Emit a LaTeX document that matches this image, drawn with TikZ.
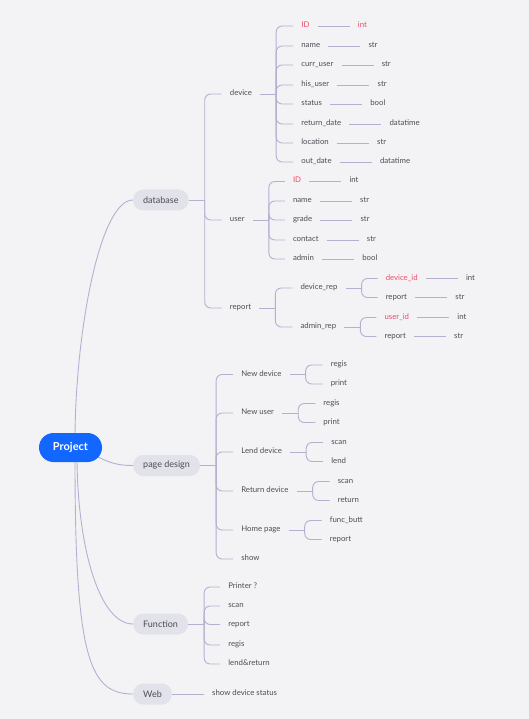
\documentclass[tikz,border=0pt]{standalone}
\usepackage{fontspec}
\setmainfont{Lato}
\usetikzlibrary{positioning,calc,backgrounds}

\definecolor{bgcol}{HTML}{F3F3F6}
\definecolor{linecol}{HTML}{B3B0D0}
\definecolor{txtcol}{HTML}{4C4C54}
\definecolor{keycol}{HTML}{F04A6A}
\definecolor{pillcol}{HTML}{E2E2EA}
\definecolor{rootcol}{HTML}{1167FF}

\tikzset{
	lnk/.style={draw=linecol, line width=0.9pt},
	brace/.style={lnk, rounded corners=6pt},
	leaf/.style={text=txtcol, font=\fontsize{7.8}{9}\selectfont, inner xsep=8pt, inner ysep=1pt, text height=5pt, text depth=2pt, anchor=west},
	pill/.style={fill=pillcol, rounded corners=10pt, text=txtcol, font=\fontsize{9}{10}\selectfont, inner xsep=10pt, minimum height=21pt, anchor=west},
	root/.style={fill=rootcol, text=white, font=\fontsize{11}{13}\selectfont\bfseries, minimum width=63pt, minimum height=29pt, rounded corners=14.5pt}
}

\begin{document}
\begin{tikzpicture}[x=1pt,y=-1pt]
	
	\useasboundingbox (0,0) rectangle (529,719);
	
	\node[root] (project) at (70.5,447.5) {Project};
	
	\node[pill] (database) at (133,200) {database};
	\node[pill] (pagedesign) at (133,465.5) {page design};
	\node[pill] (function) at (133,624) {Function};
	\node[pill] (web) at (133,694) {Web};
	
	% database
	\draw[lnk] (database.east) -- ++(16,0) coordinate (jdb);
	\node[leaf] (device) at ($(jdb |- 0,94)+(17,0)$) {device};
	\node[leaf] (user) at ($(jdb |- 0,220)+(17,0)$) {user};
	\node[leaf] (report) at ($(jdb |- 0,308)+(17,0)$) {report};
	\foreach \c in {device,user,report}
		\draw[brace] (jdb) |- (\c.west);
	
	\draw[lnk] (device.east) -- ++(16,0) coordinate (jdev);
	\foreach \k/\v/\y/\c [count=\i] in {ID/int/26/keycol, name/str/46/txtcol, curr\_user/str/65/txtcol, his\_user/str/85/txtcol, status/bool/104/txtcol, return\_date/datatime/124/txtcol, location/str/143/txtcol, out\_date/datatime/162/txtcol}
	{
		\node[leaf, text=\c] (dk\i) at ($(jdev |- 0,\y)+(17,0)$) {\k};
		\node[leaf, text=\c, right=32pt of dk\i] (dv\i) {\v};
		\draw[brace] (jdev) |- (dk\i.west);
		\draw[lnk] (dk\i) -- (dv\i);
	}
	
	\draw[lnk] (user.east) -- ++(16,0) coordinate (jusr);
	\foreach \k/\v/\y/\c [count=\i] in {ID/int/181.5/keycol, name/str/201/txtcol, grade/str/220/txtcol, contact/str/240/txtcol, admin/bool/259/txtcol}
	{
		\node[leaf, text=\c] (uk\i) at ($(jusr |- 0,\y)+(16,0)$) {\k};
		\node[leaf, right=32pt of uk\i] (uv\i) {\v};
		\draw[brace] (jusr) |- (uk\i.west);
		\draw[lnk] (uk\i) -- (uv\i);
	}
	
	\draw[lnk] (report.east) -- ++(16,0) coordinate (jrep);
	\node[leaf] (devrep) at ($(jrep |- 0,288)+(17,0)$) {device\_rep};
	\node[leaf] (admrep) at ($(jrep |- 0,327)+(17,0)$) {admin\_rep};
	\draw[brace] (jrep) |- (devrep.west);
	\draw[brace] (jrep) |- (admrep.west);
	
	\foreach \r/\k in {devrep/device\_id, admrep/user\_id}
	{
		\draw[lnk] (\r.east) -- ++(16,0) coordinate (j\r);
		\node[leaf, text=keycol] (\r k1) at ($(j\r)+(16,-9.5)$) {\k};
		\node[leaf] (\r k2) at ($(j\r)+(16,9.5)$) {report};
		\node[leaf, right=32pt of \r k1] (\r v1) {int};
		\node[leaf, right=32pt of \r k2] (\r v2) {str};
		\draw[brace] (j\r) |- (\r k1.west);
		\draw[brace] (j\r) |- (\r k2.west);
		\draw[lnk] (\r k1) -- (\r v1);
		\draw[lnk] (\r k2) -- (\r v2);
	}
	
	% page design
	\draw[lnk] (pagedesign.east) -- ++(16,0) coordinate (jpd);
	\foreach \p/\y/\a/\b [count=\i] in {New device/374.5/regis/print, New user/413/regis/print, Lend device/452/scan/lend, Return device/491/scan/return, Home page/530/func\_butt/report}
	{
		\node[leaf] (pd\i) at ($(jpd |- 0,\y)+(17,0)$) {\p};
		\draw[brace] (jpd) |- (pd\i.west);
		\draw[lnk] (pd\i.east) -- ++(16,0) coordinate (jpd\i);
		\node[leaf] (pda\i) at ($(jpd\i)+(17,-9.5)$) {\a};
		\node[leaf] (pdb\i) at ($(jpd\i)+(17,9.5)$) {\b};
		\draw[brace] (jpd\i) |- (pda\i.west);
		\draw[brace] (jpd\i) |- (pdb\i.west);
	}
	\node[leaf] (pd6) at ($(jpd |- 0,559)+(17,0)$) {show};
	\draw[brace] (jpd) |- (pd6.west);
	
	% function
	\draw[lnk] (function.east) -- ++(16,0) coordinate (jfn);
	\foreach \t/\y [count=\i] in {Printer ?/587, scan/606, report/624.5, regis/645, lend\&return/664}
	{
		\node[leaf] (fn\i) at ($(jfn |- 0,\y)+(16,0)$) {\t};
		\draw[brace] (jfn) |- (fn\i.west);
	}
	
	% web
	\node[leaf, right=32pt of web] (wb1) {show device status};
	\draw[lnk] (web) -- (wb1);
	
	\begin{pgfonlayer}{background}
		\fill[bgcol] (0,0) rectangle (529,719);
		\draw[lnk] ($(project.north)+(4.5,2)$) .. controls +(1,-105) and +(-33,0) .. (database.west);
		\draw[lnk] ($(project.east)+(-4,9.5)$) .. controls +(12,6) and +(-15,0) .. (pagedesign.west);
		\draw[lnk] ($(project.south)+(6.5,-2)$) .. controls +(1,90) and +(-33,0) .. (function.west);
		\draw[lnk] ($(project.south)+(4.5,-2)$) .. controls +(0,200) and +(-43,0) .. (web.west);
	\end{pgfonlayer}
	
\end{tikzpicture}
\end{document}
